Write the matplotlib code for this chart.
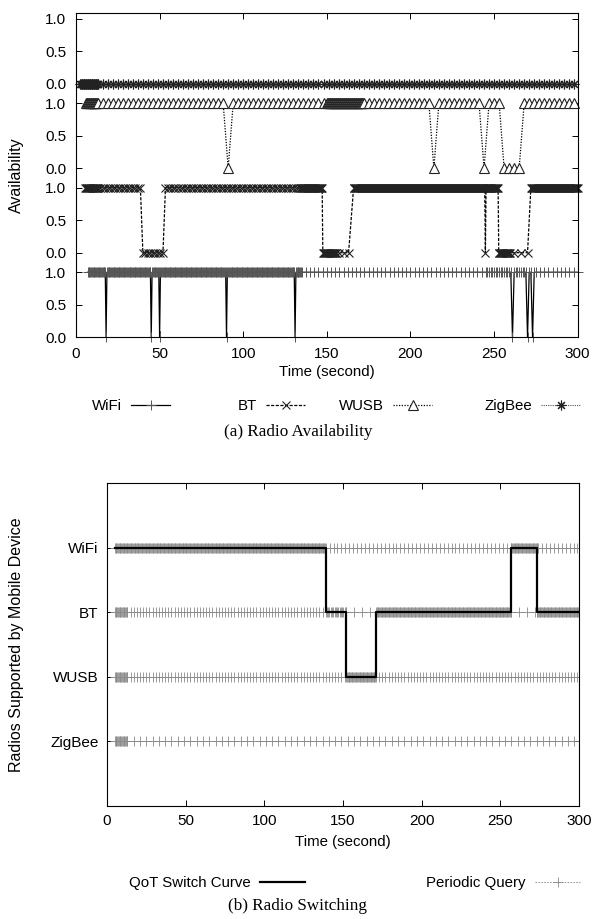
import numpy as np
import matplotlib.pyplot as plt

plt.rcParams['font.family'] = ['Liberation Sans', 'DejaVu Sans']
plt.rcParams['font.size'] = 11

# ---------------- (a) Radio Availability ----------------
radios = ["WiFi", "BT", "WUSB", "ZigBee"]

# query schedule of each radio: (start, stop, step) in seconds
wifi_sched = [(7, 135, 0.5), (135, 246, 2.5), (246, 275, 1.0), (275, 300.1, 2.5)]
bt_sched = [(5.5, 13, 0.4), (13, 134, 1.5), (134, 156, 0.4), (157, 164, 3.0),
            (166, 260, 0.4), (262, 271, 4.0), (272, 300.1, 0.4)]
wusb_sched = [(6, 13, 0.4), (13, 150, 3.0), (150, 172, 0.4), (172, 300.1, 3.0)]
zigbee_sched = [(2.5, 13, 0.4), (13, 300.1, 3.0)]

# time windows (s) where the radio was reported unavailable
wifi_out = [(17.8, 18.2), (44.8, 45.2), (49.8, 50.2), (89.8, 90.2), (130.8, 131.2),
            (260.5, 261.5), (269.5, 270.5), (272.5, 273.5)]
bt_out = [(40, 52), (147.5, 165), (244.6, 245.0), (252.5, 271)]
wusb_out = [(90.5, 91.5), (213.5, 214.5), (243.5, 244.5), (255.5, 266)]
zigbee_out = [(0, 300)]

# ---------------- (b) Radio Switching ----------------
switch_t = [5, 139, 152, 171, 257, 273, 300]
switch_radio = ["WiFi", "BT", "WUSB", "BT", "WiFi", "BT", "BT"]

query_sched = {
    "WiFi": [(5, 139, 0.5), (139, 257, 2.5), (257, 274, 0.5), (274, 300.1, 2.5)],
    "BT": [(5, 13, 0.5), (13, 139, 2.0), (139, 152, 0.8), (152, 171, 5.0),
           (171, 257, 0.5), (257, 273, 5.0), (273, 300.1, 0.5)],
    "WUSB": [(5, 13, 0.5), (13, 152, 2.0), (152, 171, 0.5), (171, 300.1, 2.0)],
    "ZigBee": [(5, 13, 0.5), (13, 300.1, 4.0)],
}


def sched_times(sched):
    return np.concatenate([np.arange(a, b, s) for a, b, s in sched])


def availability(t, outages):
    v = np.ones(len(t))
    for lo, hi in outages:
        v[(t >= lo) & (t <= hi)] = 0
    return v


fig = plt.figure(figsize=(5.96, 9.19), dpi=100)

# top panel: the four radios stacked in one axes
ax1 = fig.add_axes([0.1275, 0.633, 0.8418, 0.3525])
offsets = {"WiFi": 0.0, "BT": 1.3, "WUSB": 2.6, "ZigBee": 3.9}
styles = {
    "WiFi": dict(marker='+', linestyle='-', color='black', ms=7, mew=0.7, lw=0.9, mec='#555555'),
    "BT": dict(marker='x', linestyle=(0, (2.5, 1.2)), color='black', ms=6, mew=0.8, lw=0.9,
               mec='#222222'),
    "WUSB": dict(marker='^', linestyle=(0, (1, 1.2)), color='black', ms=6.5, mew=0.8, lw=0.9,
                 mfc='white', mec='#222222'),
    "ZigBee": dict(marker=(8, 2, 0), linestyle=(0, (1, 1)), color='#555555', ms=7, mew=0.8,
                   lw=0.8, mec='#222222'),
}
scheds = {"WiFi": wifi_sched, "BT": bt_sched, "WUSB": wusb_sched, "ZigBee": zigbee_sched}
outs = {"WiFi": wifi_out, "BT": bt_out, "WUSB": wusb_out, "ZigBee": zigbee_out}

handles = {}
for r in radios:
    t = sched_times(scheds[r])
    v = availability(t, outs[r])
    h, = ax1.plot(t, offsets[r] + v, clip_on=False, **styles[r])
    handles[r] = h

yt, yl = [], []
for r in radios:
    for v in [0.0, 0.5, 1.0]:
        yt.append(offsets[r] + v)
        yl.append(f"{v:.1f}")
ax1.set_yticks(yt)
ax1.set_yticklabels(yl)
ax1.set_xlim(0, 300)
ax1.set_ylim(0, 4.98)
ax1.set_xticks([0, 50, 100, 150, 200, 250, 300])
ax1.tick_params(direction='in', top=True, right=True, length=4, width=0.7, pad=7)
ax1.set_xlabel("Time (second)", labelpad=3, fontsize=10.8)
ax1.set_ylabel("Availability", fontsize=11.5)
ax1.yaxis.set_label_coords(-0.1036, 0.5)
for s in ax1.spines.values():
    s.set_linewidth(0.8)

leg_x = {"WiFi": 170, "BT": 305, "WUSB": 432, "ZigBee": 580}
for r in radios:
    fig.legend([handles[r]], [r], loc='center right', bbox_to_anchor=(leg_x[r] / 596, 1 - 406 / 919),
               markerfirst=False, frameon=False, handlelength=2.6, borderpad=0,
               borderaxespad=0, handletextpad=0.6, fontsize=10.8)

fig.text(0.5, 1 - 432 / 919, "(a) Radio Availability", ha='center', va='center',
         family='Liberation Serif', fontsize=12.3)

# bottom panel: switching
ax2 = fig.add_axes([0.1795, 0.123, 0.792, 0.3515])
rows = {"ZigBee": 1, "WUSB": 2, "BT": 3, "WiFi": 4}

for r in radios:
    t = sched_times(query_sched[r])
    hq, = ax2.plot(t, np.full(len(t), rows[r]), marker='+', linestyle=(0, (1.5, 1.5)),
                   color='#8a8a8a', ms=7, mew=0.6, lw=0.7)

hs, = ax2.plot(switch_t, [rows[r] for r in switch_radio], drawstyle='steps-post',
               color='black', lw=1.6, zorder=5)

ax2.set_xlim(0, 300)
ax2.set_ylim(0, 5)
ax2.set_xticks([0, 50, 100, 150, 200, 250, 300])
ax2.set_yticks([rows[r] for r in radios])
ax2.set_yticklabels(radios, fontsize=11)
ax2.tick_params(direction='in', top=True, right=True, length=4, width=0.7, pad=6)
ax2.set_xlabel("Time (second)", labelpad=5, fontsize=10.8)
ax2.set_ylabel("Radios Supported by Mobile Device", fontsize=11.5)
ax2.yaxis.set_label_coords(-0.1758, 0.5)
for s in ax2.spines.values():
    s.set_linewidth(0.8)

fig.legend([hs], ["QoT Switch Curve"], loc='center right', bbox_to_anchor=(305 / 596, 1 - 883 / 919),
           markerfirst=False, frameon=False, handlelength=3.0, borderpad=0,
           borderaxespad=0, handletextpad=0.6, fontsize=10.8)
fig.legend([hq], ["Periodic Query"], loc='center right', bbox_to_anchor=(580 / 596, 1 - 883 / 919),
           markerfirst=False, frameon=False, handlelength=3.0, borderpad=0,
           borderaxespad=0, handletextpad=0.6, fontsize=10.8)

fig.text(0.5, 1 - 906 / 919, "(b) Radio Switching", ha='center', va='center',
         family='Liberation Serif', fontsize=12.3)

fig.savefig("out.png", dpi=100)
